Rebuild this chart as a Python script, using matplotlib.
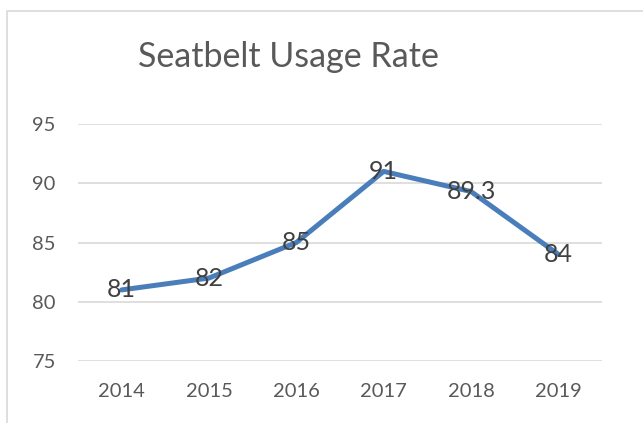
import matplotlib
matplotlib.use("Agg")
import matplotlib.pyplot as plt
from matplotlib.patches import Rectangle

years = ["2014", "2015", "2016", "2017", "2018", "2019"]
rates = [81, 82, 85, 91, 89.3, 84]
label_texts = ["81", "82", "85", "91", "89.3", "84"]
yticks = [75, 80, 85, 90, 95]

plt.rcParams['font.family'] = ['Lato', 'DejaVu Sans']

W, H = 643, 423
fig = plt.figure(figsize=(W/100, H/100), dpi=100)
fig.patch.set_facecolor('white')

# chart border
fig.patches.append(Rectangle((7/W, -0.1), 1.2, 1 - 11/H + 0.1, transform=fig.transFigure,
                             fill=False, edgecolor='#D9D9D9', linewidth=1.2))

ax = fig.add_axes([78/W, 1 - 361/H, (602-78)/W, (361-124)/H])
x = list(range(len(years)))
ax.plot(x, rates, color='#4A7EBB', linewidth=3.6, solid_capstyle='round', solid_joinstyle='round', zorder=3)
for xi, v, t in zip(x, rates, label_texts):
    ax.text(xi, v, t, ha='center', va='center', fontsize=18, color='#404040', zorder=4)

ax.set_xlim(-0.5, len(years) - 0.5)
ax.set_ylim(75, 95)
ax.set_yticks(yticks)
ax.set_xticks(x)
ax.set_xticklabels(years)
ax.tick_params(axis='both', length=0, labelsize=14.5, labelcolor='#595959')
ax.tick_params(axis='x', pad=16)
ax.tick_params(axis='y', pad=16)
ax.grid(axis='y', color='#D9D9D9', linewidth=1.2)
ax.set_axisbelow(True)
for s in ax.spines.values():
    s.set_visible(False)

fig.text(288/W, 1 - 57/H, "Seatbelt Usage Rate", ha='center', va='center', fontsize=24.5, color='#595959')

fig.savefig("out.png", dpi=100)
